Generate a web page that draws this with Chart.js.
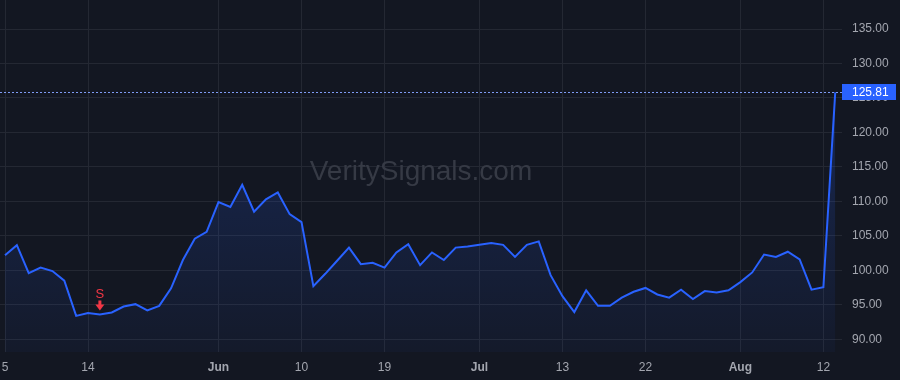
<!DOCTYPE html>
<html>
<head>
<meta charset="utf-8">
<script src="https://cdn.jsdelivr.net/npm/chart.js@4/dist/chart.umd.min.js"></script>
<style>
  html, body { margin: 0; padding: 0; background: #131722; }
  #wrap { width: 900px; height: 380px; }
</style>
</head>
<body>
<div id="wrap"><canvas id="price" width="900" height="380"></canvas></div>
<script>
// closing prices, one per trading day
const closes = [
  102.2, 103.65, 99.6, 100.4, 99.9, 98.5, 93.4, 93.8, 93.6, 93.9,
  94.75, 95.1, 94.2, 94.85, 97.4, 101.5, 104.6, 105.6, 109.9, 109.2,
  112.4, 108.5, 110.3, 111.3, 108.15, 107.0, 97.7, 99.5, 101.4, 103.3,
  100.9, 101.1, 100.4, 102.6, 103.8, 100.75, 102.6, 101.5, 103.3, 103.45,
  103.7, 103.95, 103.7, 101.95, 103.7, 104.2, 99.3, 96.25, 93.95, 97.1,
  94.85, 94.85, 96.05, 96.9, 97.45, 96.5, 96.05, 97.2, 95.85, 97.0,
  96.8, 97.1, 98.3, 99.7, 102.3, 101.95, 102.7, 101.6, 97.2, 97.55,
  125.81
];

// x axis ticks: bar index + text
const tickIndex = [0, 7, 18, 25, 32, 40, 47, 54, 62, 69];
const tickText = ["5", "14", "Jun", "10", "19", "Jul", "13", "22", "Aug", "12"];

// price axis ticks
const priceTicks = [90, 95, 100, 105, 110, 115, 120, 125, 130, 135];

// sell signal
const signalIndex = 8;
const signalText = "S";

const watermark = "VeritySignals.com";
const lastPrice = closes[closes.length - 1];

const BG = "#131722";
const GRID = "#242833";
const BLUE = "#2962ff";
const TEXT = "#a3a6af";
const FONT = "'Liberation Sans', Arial, sans-serif";

const overlay = {
  id: "overlay",
  beforeDraw(chart) {
    const c = chart.ctx;
    c.save();
    c.fillStyle = BG;
    c.fillRect(0, 0, chart.width, chart.height);
    c.restore();
  },
  beforeDatasetsDraw(chart) {
    const c = chart.ctx, a = chart.chartArea;
    c.save();
    c.font = "28px " + FONT;
    c.fillStyle = "#363a45";
    c.textAlign = "center";
    c.textBaseline = "middle";
    c.fillText(watermark, (a.left + a.right) / 2, 172);
    c.restore();
  },
  afterDatasetsDraw(chart) {
    const c = chart.ctx, a = chart.chartArea;
    const xs = chart.scales.x, ys = chart.scales.y;

    // last price line + label
    const py = Math.round(ys.getPixelForValue(lastPrice)) + 0.5;
    c.save();
    c.strokeStyle = "#7f9cf5";
    c.lineWidth = 1;
    c.setLineDash([2, 2]);
    c.beginPath();
    c.moveTo(a.left, py);
    c.lineTo(a.right, py);
    c.stroke();
    c.setLineDash([]);
    c.fillStyle = BLUE;
    c.fillRect(a.right, py - 8.5, 54, 16);
    c.fillStyle = "#ffffff";
    c.font = "12px " + FONT;
    c.textAlign = "left";
    c.textBaseline = "middle";
    c.fillText(lastPrice.toFixed(2), a.right + 10, py);

    // sell marker above the bar
    const sx = xs.getPixelForValue(signalIndex);
    const sy = ys.getPixelForValue(closes[signalIndex]);
    c.fillStyle = "#f23645";
    c.textAlign = "center";
    c.font = "13px " + FONT;
    c.fillText(signalText, sx, sy - 20);
    c.fillRect(sx - 1.5, sy - 14, 3, 5);
    c.beginPath();
    c.moveTo(sx - 4.5, sy - 10);
    c.lineTo(sx + 4.5, sy - 10);
    c.lineTo(sx, sy - 4);
    c.closePath();
    c.fill();
    c.restore();
  }
};

new Chart(document.getElementById("price"), {
  type: "line",
  data: {
    datasets: [{
      data: closes.map((v, i) => ({ x: i, y: v })),
      borderColor: BLUE,
      borderWidth: 2,
      pointRadius: 0,
      tension: 0,
      fill: "start",
      backgroundColor(ctx) {
        const a = ctx.chart.chartArea;
        if (!a) return "rgba(41,98,255,0.1)";
        const g = ctx.chart.ctx.createLinearGradient(0, a.top, 0, a.bottom);
        g.addColorStop(0, "rgba(41,98,255,0.28)");
        g.addColorStop(1, "rgba(41,98,255,0.04)");
        return g;
      }
    }]
  },
  options: {
    responsive: false,
    animation: false,
    layout: { padding: 0 },
    plugins: {
      legend: { display: false },
      tooltip: { enabled: false }
    },
    scales: {
      x: {
        type: "linear",
        min: -0.4216,
        max: 70.57,
        grid: { color: GRID, drawTicks: false },
        border: { display: false },
        afterBuildTicks(scale) {
          scale.ticks = tickIndex.map(v => ({ value: v }));
        },
        afterFit(scale) {
          scale.height = 28;
          scale.paddingLeft = 0;
          scale.paddingRight = 0;
        },
        ticks: {
          autoSkip: false,
          maxRotation: 0,
          padding: 8,
          color: TEXT,
          font(ctx) {
            const t = tickText[tickIndex.indexOf(ctx.tick ? ctx.tick.value : -1)] || "";
            const month = isNaN(Number(t));
            return { family: FONT, size: 12, weight: month ? "bold" : "normal" };
          },
          callback(v) {
            return tickText[tickIndex.indexOf(v)];
          }
        }
      },
      y: {
        position: "right",
        min: 88.16,
        max: 139.21,
        grid: { color: GRID, drawTicks: false },
        border: { display: false },
        afterBuildTicks(scale) {
          scale.ticks = priceTicks.map(v => ({ value: v }));
        },
        afterFit(scale) {
          scale.width = 58;
          scale.paddingTop = 0;
          scale.paddingBottom = 0;
        },
        ticks: {
          padding: 10,
          color: TEXT,
          font: { family: FONT, size: 12 },
          callback: v => v.toFixed(2)
        }
      }
    }
  },
  plugins: [overlay]
});
</script>
</body>
</html>
